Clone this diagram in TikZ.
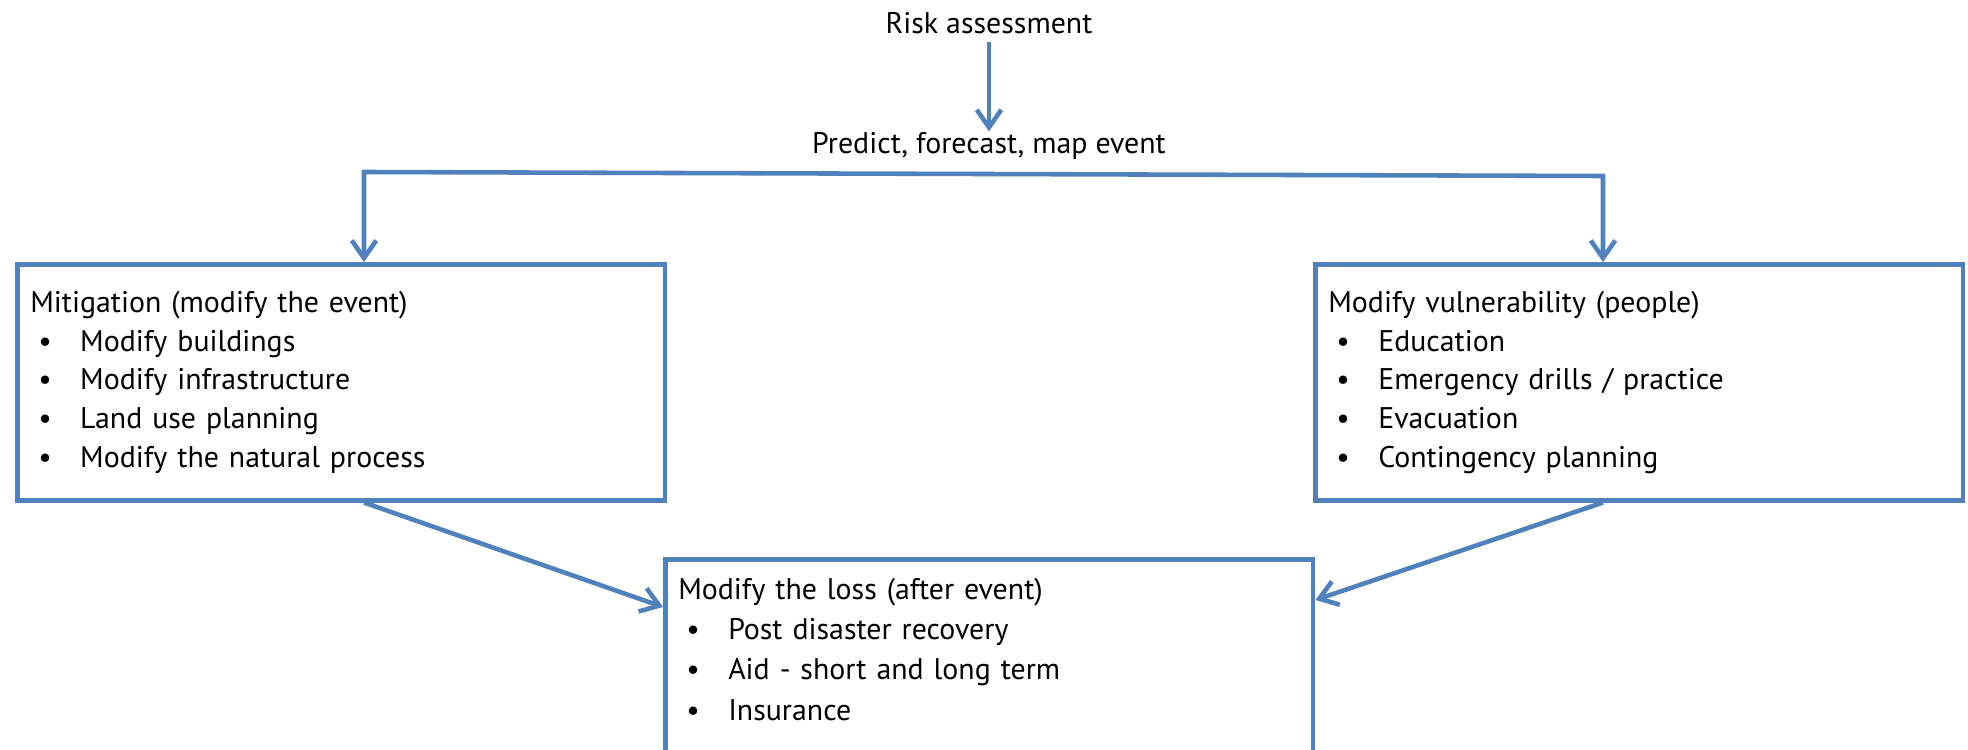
\documentclass[tikz,border=0pt]{standalone}
\usepackage{fontspec}
\setmainfont{PT Sans}
\usepackage{xcolor}
\usetikzlibrary{arrows.meta, calc}
\definecolor{mainblue}{HTML}{4F81BD}
\newcommand{\bitem}[1]{\makebox[1cm][l]{\hspace{0.16cm}\textbullet}#1}

\begin{document}
\begin{tikzpicture}[x=0.02cm, y=-0.02cm, line width=2.6pt,
        every node/.style={font=\fontsize{17}{22}\selectfont},
        main/.style={draw=mainblue, anchor=north west, minimum width=12.96cm, minimum height=4.72cm, text width=12.44cm, inner xsep=0.26cm, align=left},
        link/.style={draw=mainblue, -{Straight Barb[length=10pt, width=14pt]}}]
        \clip (0,0) rectangle (1968,750);
        \node (risk) at (989,23) {Risk assessment};
        \node (predict) at (989,146) {Predict, forecast, map event};
        \node[main] (mitig) at (15,262) {Mitigation (modify the event)\\ \bitem{Modify buildings}\\ \bitem{Modify infrastructure}\\ \bitem{Land use planning}\\ \bitem{Modify the natural process}};
        \node[main] (vuln) at (1313,262) {Modify vulnerability (people)\\ \bitem{Education}\\ \bitem{Emergency drills / practice}\\ \bitem{Evacuation}\\ \bitem{Contingency planning}};
        \node[main, minimum height=4.4cm, font=\fontsize{17}{23}\selectfont] (loss) at (663,557) {Modify the loss (after event)\\ \bitem{Post disaster recovery}\\ \bitem{Aid - short and long term}\\ \bitem{Insurance}\\ \mbox{}};
        \coordinate (lsplit) at (364,172);
        \coordinate (rsplit) at (1603,176);
        \draw[link, shorten >=-4pt] (risk) -- (predict);
        \draw[link, {Straight Barb[length=10pt, width=14pt]}-{Straight Barb[length=10pt, width=14pt]}] (lsplit |- mitig.north) -- (lsplit) -- (rsplit) -- (rsplit |- vuln.north);
        \draw[link] (lsplit |- mitig.south) -- ($(loss.north west)+(0,50)$);
        \draw[link] (rsplit |- vuln.south) -- ($(loss.north east)+(0,43)$);
    \end{tikzpicture}
\end{document}
